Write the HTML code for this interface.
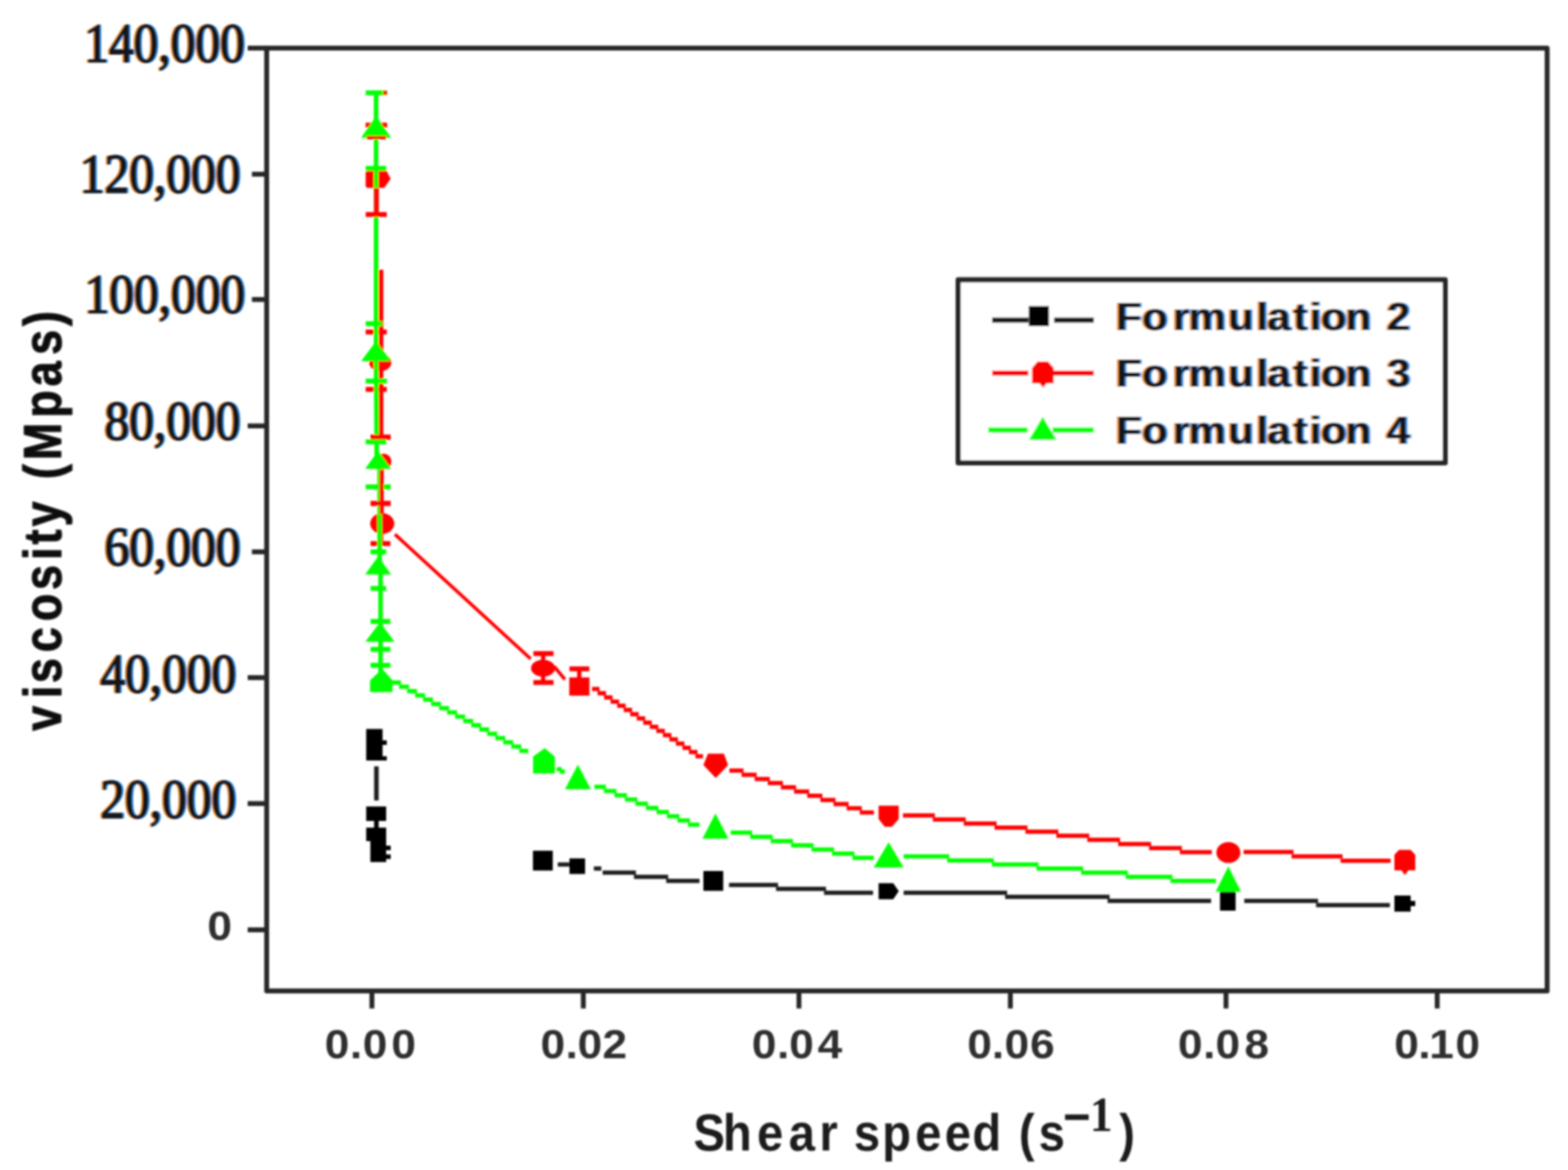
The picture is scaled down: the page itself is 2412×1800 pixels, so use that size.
<!DOCTYPE html>
<html lang="en"><head><meta charset="utf-8"><title>Viscosity vs shear speed</title>
<style>
html,body{margin:0;padding:0;background:#fff;}
body{width:2412px;height:1800px;overflow:hidden;}
svg{display:block;}
text{white-space:pre;}
.xt{font-family:"Liberation Sans",Arial,sans-serif;font-weight:bold;fill:#2e2e2e;}
.yt{font-family:"Liberation Serif","Times New Roman",serif;fill:#15151f;stroke:#15151f;stroke-width:2.4px;stroke-linejoin:round;}
.xl{font-family:"Liberation Sans",Arial,sans-serif;font-weight:bold;fill:#1c1c1c;}
.yl{font-family:"Liberation Sans",Arial,sans-serif;font-weight:bold;fill:#0a0a0a;stroke:#0a0a0a;stroke-width:1.6px;stroke-linejoin:round;}
.sup{font-family:"Liberation Serif","Times New Roman",serif;font-weight:bold;fill:#1a1a1a;}
.lg{font-family:"Liberation Sans",Arial,sans-serif;font-weight:bold;fill:#14141c;}
</style></head>
<body>
<svg width="2412" height="1800" viewBox="0 0 2412 1800">
<defs><filter id="fr" x="-5%" y="-20%" width="110%" height="140%" color-interpolation-filters="sRGB"><feOffset in="SourceAlpha" dx="-2.5" result="a"/><feFlood flood-color="#f29a3a"/><feComposite in2="a" operator="in" result="o"/><feOffset in="SourceAlpha" dx="2.5" result="b"/><feFlood flood-color="#3d9cf0"/><feComposite in2="b" operator="in" result="c"/><feMerge><feMergeNode in="o"/><feMergeNode in="c"/><feMergeNode in="SourceGraphic"/></feMerge></filter><filter id="soft" x="0" y="0" width="2412" height="1800" filterUnits="userSpaceOnUse"><feGaussianBlur stdDeviation="1.5"/></filter></defs>
<rect width="2412" height="1800" fill="#ffffff"/>
<g filter="url(#soft)">
<rect x="410.2" y="74" width="1969.7" height="1450.4" fill="none" stroke="#262626" stroke-width="7.5" stroke-linejoin="round"/>
<path d="M381 74H410.2M387.5 267.9H410.2M387.5 460.8H410.2M381 655.2H410.2M387.5 849H410.2M381 1042.5H410.2M381 1236.3H410.2M381 1430.6H410.2" stroke="#262626" stroke-width="7.5" fill="none"/>
<path d="M572.1 1524.4V1551.5M897.3 1524.4V1551.5M1229 1524.4V1551.5M1554.2 1524.4V1551.5M1885.9 1524.4V1551.5M2210.8 1524.4V1551.5" stroke="#262626" stroke-width="7.5" fill="none"/>
<text class="yt" filter="url(#fr)" font-size="84" text-anchor="end" transform="translate(376.4,94.8) scale(0.905,1)">140,000</text>
<text class="yt" filter="url(#fr)" font-size="84" text-anchor="end" transform="translate(369.8,295.5) scale(0.905,1)">120,000</text>
<text class="yt" filter="url(#fr)" font-size="84" text-anchor="end" transform="translate(377,481.1) scale(0.905,1)">100,000</text>
<text class="yt" filter="url(#fr)" font-size="84" text-anchor="end" transform="translate(369.8,676.4) scale(0.905,1)">80,000</text>
<text class="yt" filter="url(#fr)" font-size="84" text-anchor="end" transform="translate(369.8,870.2) scale(0.905,1)">60,000</text>
<text class="yt" filter="url(#fr)" font-size="84" text-anchor="end" transform="translate(363.2,1064.5) scale(0.905,1)">40,000</text>
<text class="yt" filter="url(#fr)" font-size="84" text-anchor="end" transform="translate(363.2,1257.5) scale(0.905,1)">20,000</text>
<text class="xt" font-size="63" transform="translate(319.1,1446) scale(1.08,1)" x="0" y="0">0</text>
<text class="xt" font-size="63" transform="translate(499.6,1628) scale(1.08,1)" x="0 35.8 54 94.8" y="0">0.00</text>
<text class="xt" font-size="63" transform="translate(831.6,1628) scale(1.08,1)" x="0 35.5 52.7 88" y="0">0.02</text>
<text class="xt" font-size="63" transform="translate(1156.5,1628) scale(1.08,1)" x="0 35.8 53.3 93.8" y="0">0.04</text>
<text class="xt" font-size="63" transform="translate(1487.9,1628) scale(1.08,1)" x="0 35 53.2 89.5" y="0">0.06</text>
<text class="xt" font-size="63" transform="translate(1812.1,1628) scale(1.08,1)" x="0 35.7 53.3 94.6" y="0">0.08</text>
<text class="xt" font-size="63" transform="translate(2144.7,1628) scale(1.08,1)" x="0 34.3 49.9 87" y="0">0.10</text>
<text class="xl" font-size="79" transform="scale(0.92,1)" y="1770.5"><tspan x="1159.5 1208.6 1265.9 1318.7 1370.2 1401 1427.8 1475 1530.2 1579.6 1625.8 1674 1703.5 1736.6">Shear speed (s</tspan><tspan x="1777.5" y="1745">−</tspan><tspan class="sup" font-size="76" x="1822.3" y="1739.7">1</tspan><tspan x="1871.4" y="1770.5">)</tspan></text>
<text class="yl" font-size="82" transform="translate(93.6,1124.4) rotate(-90) scale(0.84,1)" x="0 60 87.7 144 201 258.2 313.1 341.6 374.4 420 461.1 495.9 573.7 631 688.8 741.5" y="0">viscosity (Mpas)</text>
<path d="M586.2 415L586.2 672" stroke="#ff0000" stroke-width="7" fill="none"/>
<path d="M586.3 721L586.3 836" stroke="#ff0000" stroke-width="6.5" fill="none"/>
<path d="M562.5 192.5H595.5M562.5 510.8H595M562.5 599H595M570 672.5H601M570 774.5H601M570 836.3H600.5" stroke="#ff0000" stroke-width="7.5" fill="none"/>
<path d="M607.5 822L816.3 1013.6" stroke="#ff0000" stroke-width="5.2" fill="none"/>
<path d="M852.6 1025.4L869 1045.4" stroke="#ff0000" stroke-width="5.2" fill="none"/>
<path d="M910.7 1060H922.2M919.2 1066.5H932.3M929.3 1072.9H942.3M939.3 1079.4H952.4M949.4 1085.8H962.4M959.4 1092.3H972.4M969.4 1098.8H982.5M979.5 1105.2H992.5M989.5 1111.7H1002.6M999.6 1118.2H1012.6M1009.6 1124.6H1022.7M1019.7 1131.1H1032.7M1029.7 1137.6H1042.7M1039.7 1144H1052.8M1049.8 1150.5H1062.8M1059.8 1156.9H1072.9M1069.9 1163.4H1081.4" stroke="#ff0000" stroke-width="6.5" fill="none"/>
<path d="M1122 1185.5H1143.7M1140.7 1192H1163.9M1160.9 1198.4H1184.1M1181.1 1204.8H1204.3M1201.3 1211.3H1224.5M1221.5 1217.8H1244.8M1241.8 1224.2H1265M1262 1230.7H1285.2M1282.2 1237.1H1305.4M1302.4 1243.5H1325.6M1322.6 1250H1344.3" stroke="#ff0000" stroke-width="6.5" fill="none"/>
<path d="M1389 1254.4H1438M1435 1260.7H1485.5M1482.5 1267H1533M1530 1273.3H1580.5M1577.5 1279.6H1628M1625 1285.8H1675.5M1672.5 1292.1H1723M1720 1298.4H1770.5M1767.5 1304.7H1818M1815 1311H1864" stroke="#ff0000" stroke-width="6.5" fill="none"/>
<path d="M1913 1310.7H1989.8M1986.8 1317.5H2065.2M2062.2 1324.3H2139" stroke="#ff0000" stroke-width="6.5" fill="none"/>
<path d="M835.5 1005.4L835.5 1050" stroke="#ff0000" stroke-width="6.5" fill="none"/>
<path d="M891 1029L891 1056" stroke="#ff0000" stroke-width="6.5" fill="none"/>
<path d="M820.5 1005.4H851.5M820.5 1050H851.5M876 1029H906.5" stroke="#ff0000" stroke-width="7.5" fill="none"/>
<path d="M566 262.5H593Q596 262.5 596 266L601 275L591 289H566Q562.5 289 562.5 285.5V266Q562.5 262.5 566 262.5Z" fill="#ff0000"/>
<ellipse cx="585" cy="558" rx="17" ry="13" fill="#ff0000"/>
<ellipse cx="590" cy="710" rx="12" ry="12" fill="#ff0000"/>
<ellipse cx="588" cy="805.5" rx="18.5" ry="16" fill="#ff0000"/>
<ellipse cx="835.4" cy="1028" rx="18.5" ry="13" fill="#ff0000"/>
<rect x="875.7" y="1042.2" width="31" height="28" fill="#ff0000"/>
<path d="M1089 1159.5L1113.5 1159.5L1120 1177L1101 1197L1082 1177Z" fill="#ff0000"/>
<path d="M1351.5 1239.5L1382.5 1239.5L1382.5 1260L1372 1272L1361 1272L1351.5 1260Z" fill="#ff0000"/>
<ellipse cx="1889.6" cy="1311.6" rx="18.5" ry="16" fill="#ff0000"/>
<path d="M2152 1307.5L2170 1307.5L2177 1315L2177 1339L2166 1339L2161 1346.5L2156 1339L2145 1339L2145 1315Z" fill="#ff0000"/>
<path d="M578.5 142.7L578.5 560L579.5 700L584 721L584 860L585.4 883L585.4 1040" stroke="#00ff00" stroke-width="7" fill="none"/>
<path d="M562.5 142.7H595.5M562.5 259H594M562.5 498H588.5M562.5 586.2H595M562.5 679.8H594M562.5 749H601M570 849H594M570 905.3H594M570 956H600.5M570 999H600.5M570 1023.6H600.5" stroke="#00ff00" stroke-width="7.5" fill="none"/>
<path d="M603 1050H616.8M613.8 1056.6H629.2M626.2 1063.2H641.5M638.5 1069.7H653.8M650.8 1076.3H666.2M663.2 1082.9H678.5M675.5 1089.5H690.8M687.8 1096H703.2M700.2 1102.6H715.5M712.5 1109.2H727.9M724.9 1115.8H740.2M737.2 1122.3H752.5M749.5 1128.9H764.9M761.9 1135.5H777.2M774.2 1142H789.5M786.5 1148.6H801.9M798.9 1155.2H812.7" stroke="#00ff00" stroke-width="6.5" fill="none"/>
<path d="M856.3 1183.4H864.1M861.1 1187H869" stroke="#00ff00" stroke-width="6.5" fill="none"/>
<path d="M914.4 1210.6H932.1M929.1 1217.1H948.2M945.2 1223.5H964.4M961.4 1230H980.5M977.5 1236.4H996.7M993.7 1242.9H1012.9M1009.9 1249.3H1029M1026 1255.8H1045.2M1042.2 1262.2H1061.3M1058.3 1268.7H1076" stroke="#00ff00" stroke-width="6.5" fill="none"/>
<path d="M1124 1281H1157M1154 1287.5H1188.4M1185.4 1293.9H1219.9M1216.9 1300.4H1251.4M1248.4 1306.9H1282.9M1279.9 1313.3H1314.3M1311.3 1319.8H1344.3" stroke="#00ff00" stroke-width="6.5" fill="none"/>
<path d="M1390 1317.5H1460.1M1457.1 1323.8H1528.8M1525.8 1330.1H1597.4M1594.4 1336.3H1666.1M1663.1 1342.6H1734.7M1731.7 1348.9H1803.4M1800.4 1355.2H1870.5" stroke="#00ff00" stroke-width="6.5" fill="none"/>
<path d="M578.5 178.7L601 211.7H556Z" fill="#00ff00" stroke="#00ff00" stroke-width="0.6" stroke-linejoin="round"/>
<path d="M578.5 525.3L601 555.3H556Z" fill="#00ff00" stroke="#00ff00" stroke-width="0.6" stroke-linejoin="round"/>
<path d="M581.7 694L601.2 721H562.2Z" fill="#00ff00" stroke="#00ff00" stroke-width="0.6" stroke-linejoin="round"/>
<path d="M581.7 856.5L601.2 883.5H562.2Z" fill="#00ff00" stroke="#00ff00" stroke-width="0.6" stroke-linejoin="round"/>
<path d="M584.5 958L606.5 987H562.5Z" fill="#00ff00" stroke="#00ff00" stroke-width="0.6" stroke-linejoin="round"/>
<path d="M588 1030L603 1047V1064H570V1047Z" fill="#00ff00" stroke="#00ff00" stroke-width="1.5" stroke-linejoin="round"/>
<path d="M838 1151L853.5 1164L853.5 1190L820 1190L820 1164Z" fill="#00ff00"/>
<path d="M889 1177L908.5 1214H869.5Z" fill="#00ff00" stroke="#00ff00" stroke-width="0.6" stroke-linejoin="round"/>
<path d="M1100.5 1252L1120 1290H1081Z" fill="#00ff00" stroke="#00ff00" stroke-width="0.6" stroke-linejoin="round"/>
<path d="M1367 1296.3L1389.5 1334.3H1344.5Z" fill="#00ff00" stroke="#00ff00" stroke-width="0.6" stroke-linejoin="round"/>
<path d="M1889.5 1333.6L1908.5 1371.6H1870.5Z" fill="#00ff00" stroke="#00ff00" stroke-width="0.6" stroke-linejoin="round"/>
<path d="M579 289L579 330" stroke="#ff0000" stroke-width="7.5" fill="none"/>
<path d="M562.5 330H595M570 672.5H601M570 774.5H601" stroke="#ff0000" stroke-width="7.5" fill="none"/>
<path d="M587 723L587 791" stroke="#ff0000" stroke-width="6.5" fill="none"/>
<path d="M564 211.7H594" stroke="#ff0000" stroke-width="5" fill="none"/>
<path d="M589 142.7H595.5" stroke="#ff0000" stroke-width="6" fill="none"/>
<path d="M579 1179L579 1231.5" stroke="#1e1e1e" stroke-width="7" fill="none"/>
<path d="M563.3 1121.5H588.5V1139H595V1146H588.5V1163.5H595V1170H563.3Z" fill="#000000"/>
<path d="M563.3 1240.7H594V1263H582.5V1273.3H594V1301H601V1308H594V1314.5H601V1321.5H594V1326.3H569.7V1294H563.3V1273.3H575.5V1263H563.3Z" fill="#000000"/>
<path d="M858 1330L876 1330" stroke="#1e1e1e" stroke-width="6.5" fill="none"/>
<path d="M913.5 1336.2L925 1336.2" stroke="#1e1e1e" stroke-width="6.5" fill="none"/>
<path d="M927 1342.6H978.2M975.2 1348.9H1027.8M1024.8 1355.3H1076" stroke="#1e1e1e" stroke-width="6.5" fill="none"/>
<path d="M1121.4 1361.6H1196.8M1193.8 1367.5H1270.6M1267.6 1373.4H1343" stroke="#1e1e1e" stroke-width="6.5" fill="none"/>
<path d="M1390 1373.4H1549.2M1546.2 1379.7H1706.8M1703.8 1386H1863" stroke="#1e1e1e" stroke-width="6.5" fill="none"/>
<path d="M1914 1386H2027.5M2024.5 1392.4H2138" stroke="#1e1e1e" stroke-width="6.5" fill="none"/>
<rect x="819.8" y="1308.8" width="30.5" height="30.5" fill="#000000"/>
<rect x="876" y="1320.6" width="24" height="24" fill="#000000"/>
<rect x="1082" y="1340" width="30.5" height="30.5" fill="#000000"/>
<path d="M1351.5 1358.8H1374L1382.5 1371L1374 1383.5H1351.5Z" fill="#000000"/>
<rect x="1876.7" y="1372" width="24" height="29" fill="#000000"/>
<path d="M2145 1377.8H2170V1386H2177V1394H2170V1402.5H2145Z" fill="#000000"/>
<rect x="1474" y="430.5" width="749" height="281.5" fill="#fff" stroke="#262626" stroke-width="8" stroke-linejoin="round"/>
<path d="M1526 492.6L1582 492.6" stroke="#1e1e1e" stroke-width="8" fill="none"/>
<path d="M1621.5 492.6L1682.5 492.6" stroke="#1e1e1e" stroke-width="8" fill="none"/>
<rect x="1582.5" y="470.8" width="31" height="31" fill="#000000"/>
<path d="M1526 574L1582 574" stroke="#ff0000" stroke-width="8" fill="none"/>
<path d="M1620 574L1682.5 574" stroke="#ff0000" stroke-width="8" fill="none"/>
<path d="M1596 556L1612 556L1621 566L1621 590L1610 590L1604.5 596.5L1599 590L1587.5 590L1587.5 566Z" fill="#ff0000"/>
<path d="M1520 661.5L1581 661.5" stroke="#00ff00" stroke-width="8" fill="none"/>
<path d="M1619 661.5L1682.5 661.5" stroke="#00ff00" stroke-width="8" fill="none"/>
<path d="M1604 641.5L1625 676.5H1583Z" fill="#00ff00" stroke="#00ff00" stroke-width="0.6" stroke-linejoin="round"/>
<text class="lg" font-size="62" transform="translate(1716.6,508) scale(1.04,1)" x="0 38.5 84.3 107.3 165.7 207.7 223.8 262.3 286.4 303.1 339.6 377.4 400.6" y="0" filter="url(#fr)">Formulation 2</text>
<text class="lg" font-size="62" transform="translate(1716.6,595) scale(1.04,1)" x="0 38.5 84.3 107.3 165.7 207.7 223.8 262.3 286.4 303.1 339.6 377.4 400.8" y="0" filter="url(#fr)">Formulation 3</text>
<text class="lg" font-size="62" transform="translate(1716.6,682.5) scale(1.04,1)" x="0 38.5 84.3 107.3 165.7 207.7 223.8 262.3 286.4 303.1 339.6 377.4 400.1" y="0" filter="url(#fr)">Formulation 4</text>
</g>
</svg>
</body></html>
